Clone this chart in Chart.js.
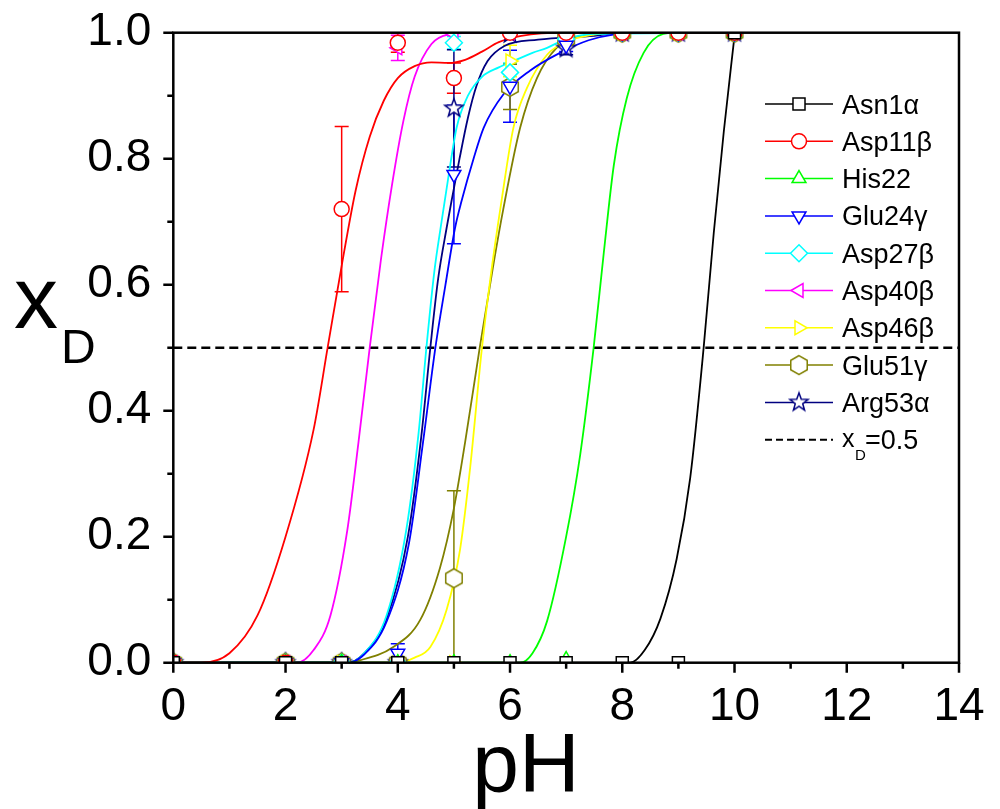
<!DOCTYPE html>
<html>
<head>
<meta charset="utf-8">
<script src="https://cdn.jsdelivr.net/npm/chart.js@4.4.1/dist/chart.umd.min.js"></script>
<style>
  body{margin:0;background:#fff;}
  #wrap{width:1000px;height:809px;}
</style>
</head>
<body>
<div id="wrap"><canvas id="myChart" width="1000" height="809"></canvas></div>
<script>
'use strict';
// measured pH points (markers)
const phPoints = [0, 2, 3, 4, 5, 6, 7, 8, 9, 10];
const names = ['Asn1α','Asp11β','His22','Glu24γ','Asp27β','Asp40β','Asp46β','Glu51γ','Arg53α'];
const colors = ['#000000','#ff0000','#00ff00','#0000ff','#00ffff','#ff00ff','#ffff00','#808000','#000080'];

const asn1Val = [0,0,0,0,0,0,0,0,0,1];
const asn1Err = [0,0,0,0,0,0,0,0,0,0];
const asp11Val = [0,0,0.72,0.984,0.928,1,1,1,1,1];
const asp11Err = [0,0,0.131,0.015,0.024,0,0,0,0,0];
const his22Val = [0,0,0,0,0,0,0.005,1,1,1];
const his22Err = [0,0,0,0,0,0,0,0,0,0];
const glu24Val = [0,0,0,0.015,0.775,0.915,0.98,1,1,1];
const glu24Err = [0,0,0,0.015,0.11,0.057,0.01,0,0,0];
const asp27Val = [0,0,0,0,0.984,0.937,0.99,1,1,1];
const asp27Err = [0,0,0,0,0.01,0.015,0,0,0,0];
const asp40Val = [0,0,0,0.976,0.998,1,1,1,1,1];
const asp40Err = [0,0,0,0.02,0,0,0,0,0,0];
const asp46Val = [0,0,0,0,0,0.955,0.99,1,1,1];
const asp46Err = [0,0,0,0,0,0.025,0,0,0,0];
const glu51Val = [0,0,0,0,0.134,0.914,0.99,1,1,1];
const glu51Err = [0,0,0,0,0.139,0.036,0,0,0,0];
const arg53Val = [0,0,0,0,0.88,0.998,0.975,1,1,1];
const arg53Err = [0,0,0,0,0.093,0,0.01,0,0,0];

// fitted curves [pH, xD]
const asn1Fit = [[0,0],[7.9,0],[8.14,0],[8.4,0.02],[8.68,0.07],[8.97,0.165],[9.21,0.293],[9.45,0.5],[9.63,0.682],[9.81,0.844],[10,0.995]];
const asp11Fit = [[0,0],[0.5,0],[1.0,0.015],[1.5,0.075],[2.0,0.2],[2.5,0.37],[2.75,0.5],[3.0,0.63],[3.25,0.75],[3.5,0.835],[3.75,0.892],[4.0,0.928],[4.3,0.947],[4.6,0.953],[4.9,0.952],[5.2,0.957],[5.5,0.97],[5.8,0.985],[6.2,0.995],[7,1],[10,1]];
const his22Fit = [[0,0],[6.18,0],[6.4,0.015],[6.66,0.066],[7.0,0.2],[7.25,0.33],[7.49,0.5],[7.67,0.65],[7.85,0.79],[8.08,0.896],[8.38,0.968],[8.73,0.998],[9,1],[10,1]];
const glu24Fit = [[0,0],[3.1,0],[3.4,0.013],[3.8,0.065],[4.2,0.19],[4.45,0.35],[4.67,0.5],[4.85,0.6],[5.02,0.69],[5.14,0.734],[5.35,0.8],[5.53,0.849],[5.88,0.902],[6.36,0.94],[6.89,0.968],[7.4,0.988],[7.84,0.997],[8.5,1],[10,1]];
const asp27Fit = [[0,0],[3.1,0],[3.4,0.015],[3.8,0.075],[4.15,0.21],[4.37,0.364],[4.51,0.5],[4.65,0.62],[4.78,0.7],[4.9,0.77],[5.05,0.85],[5.25,0.9],[5.5,0.93],[5.8,0.945],[6.06,0.955],[6.4,0.968],[6.66,0.976],[7.0,0.99],[7.5,0.998],[10,1]];
const asp40Fit = [[0,0],[2.2,0],[2.5,0.02],[2.8,0.075],[3.1,0.21],[3.3,0.35],[3.5,0.5],[3.7,0.64],[3.9,0.76],[4.1,0.86],[4.3,0.93],[4.6,0.982],[4.9,0.997],[5.5,1],[10,1]];
const asp46Fit = [[0,0],[4.0,0],[4.3,0.008],[4.58,0.025],[4.87,0.084],[5.11,0.18],[5.29,0.31],[5.5,0.5],[5.68,0.63],[5.85,0.734],[6.06,0.849],[6.3,0.912],[6.66,0.965],[7.01,0.986],[7.5,0.997],[8,1],[10,1]];
const glu51Fit = [[0,0],[3.0,0],[3.33,0.004],[3.92,0.025],[4.4,0.068],[4.75,0.15],[5.0,0.245],[5.2,0.35],[5.46,0.5],[5.7,0.63],[5.88,0.72],[6.18,0.849],[6.48,0.928],[6.83,0.976],[7.25,0.994],[8,1],[10,1]];
const arg53Fit = [[0,0],[3.1,0],[3.4,0.015],[3.8,0.07],[4.18,0.2],[4.42,0.36],[4.58,0.5],[4.72,0.61],[4.87,0.69],[4.96,0.734],[5.1,0.8],[5.25,0.865],[5.4,0.915],[5.6,0.955],[5.9,0.979],[6.5,0.989],[7.5,0.995],[8,1],[10,1]];

const refPH = [0, 14];
const refLevel = [0.5, 0.5];
const yTicks = [0, 0.2, 0.4, 0.6, 0.8, 1.0];
const xTicks = [0, 2, 4, 6, 8, 10, 12, 14];

const allVals = [asn1Val,asp11Val,his22Val,glu24Val,asp27Val,asp40Val,asp46Val,glu51Val,arg53Val];
const allErrs = [asn1Err,asp11Err,his22Err,glu24Err,asp27Err,asp40Err,asp46Err,glu51Err,arg53Err];
const allFits = [asn1Fit,asp11Fit,his22Fit,glu24Fit,asp27Fit,asp40Fit,asp46Fit,glu51Fit,arg53Fit];

function makeShape(kind, color){
  const c = document.createElement('canvas');
  c.width = 24; c.height = 24;
  const g = c.getContext('2d');
  g.beginPath();
  if(kind === 'hex'){
    for(let k=0;k<6;k++){
      const a = Math.PI/2 + k*Math.PI/3;
      g.lineTo(12 + 9.5*Math.cos(a), 12 - 9.5*Math.sin(a));
    }
  }else{
    for(let k=0;k<10;k++){
      const a = Math.PI/2 + k*Math.PI/5;
      const r = k%2 ? 3.9 : 9.5;
      g.lineTo(12 + r*Math.cos(a), 12 - r*Math.sin(a));
    }
  }
  g.closePath();
  g.fillStyle = '#fff';
  g.fill();
  g.lineWidth = 1.5;
  g.strokeStyle = color;
  g.stroke();
  return c;
}

const styles = [
  {pointStyle:'rect', rotation:0, radius:8.5},
  {pointStyle:'circle', rotation:0, radius:7.5},
  {pointStyle:'triangle', rotation:0, radius:8},
  {pointStyle:'triangle', rotation:180, radius:8},
  {pointStyle:'rectRot', rotation:0, radius:8.5},
  {pointStyle:'triangle', rotation:270, radius:8},
  {pointStyle:'triangle', rotation:90, radius:8},
  {pointStyle:makeShape('hex', colors[7]), rotation:0, radius:9},
  {pointStyle:makeShape('star', colors[8]), rotation:0, radius:9}
];

let datasets = [];
for(let i=0;i<names.length;i++){
  datasets.push({
    label: names[i],
    data: phPoints.map((p, j) => ({x:p, y:allVals[i][j]})),
    errs: allErrs[i],
    showLine: false,
    borderColor: colors[i],
    backgroundColor: '#fff',
    pointStyle: styles[i].pointStyle,
    rotation: styles[i].rotation,
    pointRadius: styles[i].radius,
    pointBorderWidth: 1.5,
    clip: 0,
    order: 0
  });
}
for(let i=0;i<names.length;i++){
  datasets.push({
    label: names[i] + ' fit',
    data: allFits[i].map(p => ({x:p[0], y:p[1]})),
    borderColor: colors[i],
    borderWidth: 1.8,
    pointRadius: 0,
    cubicInterpolationMode: 'monotone',
    fill: false,
    clip: 0,
    order: 1
  });
}
datasets.push({
  label: 'xD=0.5',
  data: refPH.map((p, j) => ({x:p, y:refLevel[j]})),
  borderColor: '#000',
  borderWidth: 2.5,
  borderDash: [9, 5],
  pointRadius: 0,
  clip: 0,
  order: 2
});

const FONT = 'Arial, "Liberation Sans", sans-serif';

const errorBars = {
  id: 'errorBars',
  beforeDatasetsDraw(chart){
    const ctx = chart.ctx;
    const a = chart.chartArea;
    const xs = chart.scales.x, ys = chart.scales.y;
    ctx.save();
    ctx.beginPath();
    ctx.rect(a.left, a.top, a.right - a.left, a.bottom - a.top);
    ctx.clip();
    ctx.lineWidth = 1.5;
    chart.data.datasets.forEach(ds => {
      if(!ds.errs) return;
      ctx.strokeStyle = ds.borderColor;
      ds.data.forEach((pt, j) => {
        const e = ds.errs[j];
        if(!e) return;
        const x = xs.getPixelForValue(pt.x);
        const y1 = ys.getPixelForValue(pt.y + e);
        const y2 = ys.getPixelForValue(pt.y - e);
        ctx.beginPath();
        ctx.moveTo(x, y1); ctx.lineTo(x, y2);
        ctx.moveTo(x - 7, y1); ctx.lineTo(x + 7, y1);
        ctx.moveTo(x - 7, y2); ctx.lineTo(x + 7, y2);
        ctx.stroke();
      });
    });
    ctx.restore();
  }
};

function legendMarker(ctx, i, x, y){
  const st = styles[i];
  ctx.save();
  ctx.fillStyle = '#fff';
  ctx.strokeStyle = colors[i];
  ctx.lineWidth = 1.5;
  if(Chart.helpers && Chart.helpers.drawPoint){
    Chart.helpers.drawPoint(ctx, {pointStyle: st.pointStyle, rotation: st.rotation, radius: st.radius, borderWidth: 1.5}, x, y);
  }
  ctx.restore();
}

const frameAndText = {
  id: 'frameAndText',
  afterDraw(chart){
    const ctx = chart.ctx;
    const a = chart.chartArea;
    const xs = chart.scales.x, ys = chart.scales.y;
    ctx.save();
    ctx.strokeStyle = '#000';
    ctx.lineWidth = 2.5;
    ctx.strokeRect(a.left, a.top, a.right - a.left, a.bottom - a.top);
    // ticks
    ctx.beginPath();
    for(let v=0; v<=14; v++){
      const x = xs.getPixelForValue(v);
      ctx.moveTo(x, a.bottom);
      ctx.lineTo(x, a.bottom + (v % 2 === 0 ? 10 : 6));
    }
    for(let k=0; k<=10; k++){
      const y = ys.getPixelForValue(k/10);
      ctx.moveTo(a.left, y);
      ctx.lineTo(a.left - (k % 2 === 0 ? 10 : 6), y);
    }
    ctx.stroke();

    // axis titles
    ctx.fillStyle = '#000';
    ctx.textBaseline = 'alphabetic';
    ctx.textAlign = 'center';
    ctx.font = '84px ' + FONT;
    ctx.fillText('pH', 526, 792);
    ctx.textAlign = 'left';
    ctx.font = '88px ' + FONT;
    ctx.fillText('x', 14, 328);
    ctx.font = '48px ' + FONT;
    ctx.fillText('D', 61, 363);

    // legend
    const rowY0 = 104, rowH = 37.3;
    for(let i=0;i<names.length;i++){
      const y = rowY0 + i*rowH;
      ctx.strokeStyle = colors[i];
      ctx.lineWidth = 1.5;
      ctx.beginPath();
      ctx.moveTo(765, y); ctx.lineTo(833, y);
      ctx.stroke();
      legendMarker(ctx, i, 799, y);
      ctx.fillStyle = '#000';
      ctx.font = '27px ' + FONT;
      ctx.fillText(names[i], 842, y + 9.5);
    }
    const yr = rowY0 + names.length*rowH;
    ctx.strokeStyle = '#000';
    ctx.lineWidth = 2;
    ctx.setLineDash([7, 4]);
    ctx.beginPath();
    ctx.moveTo(765, yr); ctx.lineTo(833, yr);
    ctx.stroke();
    ctx.setLineDash([]);
    ctx.font = '25px ' + FONT;
    ctx.fillText('x', 842, yr + 7);
    ctx.font = '15px ' + FONT;
    ctx.fillText('D', 855, yr + 20);
    ctx.font = '27px ' + FONT;
    ctx.fillText('=0.5', 865, yr + 9.5);
    ctx.restore();
  }
};

const ctx = document.getElementById('myChart').getContext('2d');
const myChart = new Chart(ctx, {
  type: 'line',
  data: { datasets: datasets },
  options: {
    responsive: false,
    animation: false,
    devicePixelRatio: 1,
    layout: { padding: { top: 32.7, right: 41, left: 0, bottom: 0 } },
    plugins: { legend: { display: false }, tooltip: { enabled: false } },
    scales: {
      x: {
        type: 'linear',
        min: 0, max: 14,
        afterBuildTicks: (s) => { s.ticks = xTicks.map(v => ({value: v})); },
        afterFit: (s) => { s.height = 146.3; s.paddingLeft = 0; s.paddingRight = 0; },
        grid: { display: false, drawTicks: false },
        border: { display: false },
        ticks: { color: '#000', font: { size: 46, family: FONT }, padding: 17, maxRotation: 0, autoSkip: false }
      },
      y: {
        type: 'linear',
        min: 0, max: 1,
        afterBuildTicks: (s) => { s.ticks = yTicks.map(v => ({value: v})); },
        afterFit: (s) => { s.width = 173.3; s.paddingTop = 0; s.paddingBottom = 0; },
        grid: { display: false, drawTicks: false },
        border: { display: false },
        ticks: { color: '#000', font: { size: 46, family: FONT }, padding: 22,
          callback: (v) => Number(v).toFixed(1) }
      }
    }
  },
  plugins: [errorBars, frameAndText]
});
</script>
</body>
</html>
